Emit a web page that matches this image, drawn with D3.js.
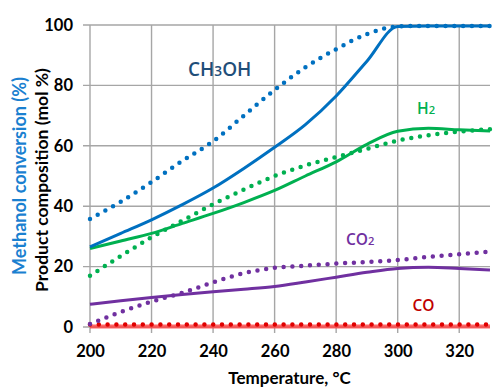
<!DOCTYPE html>
<html><head><meta charset="utf-8">
<script src="https://cdn.jsdelivr.net/npm/d3@7"></script>
<style>body{margin:0;background:#fff}svg{display:block}</style>
</head><body>
<svg id="c" width="501" height="390"></svg>
<script>
const temps = [200,210,220,230,240,250,260,270,280,290,300,310,320,330];
const ch3ohSolid = [26.5,31,35.5,40.5,46,52.5,59.5,67,76.5,88,99.5,99.7,99.7,99.7];
const ch3ohDotted = [35.8,41.5,48,55,61.5,70,78.5,86,92,97,99.5,99.7,99.7,99.7];
const h2Solid = [26,28.5,31,34.3,37.6,41.2,45.2,50,54.7,60.5,64.8,65.8,65.3,64.9];
const h2Dotted = [17,23.5,29.7,35.2,40.6,45.5,50,53.5,56.3,59,61.7,63.5,64.7,65.5];
const co2Solid = [7.5,8.7,9.8,10.8,11.7,12.5,13.4,14.9,16.5,18.1,19.4,19.8,19.4,18.9];
const co2Dotted = [1,5,8.4,11.3,14.8,17.8,19.6,20.3,21,21.5,22.2,23.2,24.1,25];
const coSolid = [0.2,0.2,0.2,0.2,0.2,0.2,0.2,0.2,0.2,0.2,0.2,0.2,0.2,0.2];
const coDotted = [0.8,0.8,0.8,0.8,0.8,0.8,0.8,0.8,0.8,0.8,0.8,0.8,0.8,0.8];
const xTicks = [200,220,240,260,280,300,320];
const yTicks = [0,20,40,60,80,100];

const svg = d3.select('#c');
const x = d3.scaleLinear().domain([200,330]).range([90,490]);
const y = d3.scaleLinear().domain([0,100]).range([327,25]);
const font = 'Lato, "Open Sans", sans-serif';
const lfont = '"Open Sans", sans-serif';
const gridC = '#a6a6a6';

// grid
const g = svg.append('g');
g.selectAll('.hg').data(yTicks).join('line')
  .attr('x1', 83).attr('x2', 490).attr('y1', d=>y(d)).attr('y2', d=>y(d))
  .attr('stroke', gridC).attr('stroke-width', 1.4);
g.selectAll('.vg').data(xTicks).join('line')
  .attr('x1', d=>x(d)).attr('x2', d=>x(d)).attr('y1', 25).attr('y2', 333)
  .attr('stroke', gridC).attr('stroke-width', 1.4);

// axis labels via d3 axes (no domain lines)
const xa = svg.append('g').attr('transform','translate(0,327)')
  .call(d3.axisBottom(x).tickValues(xTicks).tickSize(0).tickPadding(18).tickFormat(d3.format('d')));
const ya = svg.append('g').attr('transform','translate(90,0)')
  .call(d3.axisLeft(y).tickValues(yTicks).tickSize(0).tickPadding(17).tickFormat(d3.format('d')));
[xa, ya].forEach(a => {
  a.select('.domain').remove();
  a.selectAll('text').attr('font-family', font).attr('font-weight','bold')
    .attr('font-size', 16.5).attr('fill', '#000');
});
xa.selectAll('text').attr('dy', '0.71em');

const line = d3.line().x((d,i)=>x(temps[i])).y(d=>y(d)).curve(d3.curveMonotoneX);

function drawSolid(data, color, w, op) {
  svg.append('path').datum(data).attr('d', line)
    .attr('fill','none').attr('stroke', color).attr('stroke-width', w)
    .attr('stroke-opacity', op||1).attr('stroke-linejoin','round');
}
function drawDotted(data, color) {
  svg.append('path').datum(data).attr('d', line)
    .attr('fill','none').attr('stroke', color).attr('stroke-width', 4.5)
    .attr('stroke-linecap','round').attr('stroke-dasharray','0 8.8');
}
drawSolid(coSolid, '#ff4040', 4, 0.8);
drawDotted(coDotted, '#e00000');
drawSolid(co2Solid, '#7030a0', 3);
drawDotted(co2Dotted, '#7030a0');
drawSolid(h2Solid, '#00b050', 3);
drawDotted(h2Dotted, '#00b050');
drawSolid(ch3ohSolid, '#0070c0', 3);
drawDotted(ch3ohDotted, '#0070c0');

// series labels
function lab(xp, yp, parts, color, size) {
  const t = svg.append('text').attr('x', xp).attr('y', yp)
    .attr('font-family', lfont).attr('font-weight', 600).attr('font-size', size).attr('fill', color);
  parts.forEach(p => {
    const s = t.append('tspan').text(p[0]);
    if (p[1]) s.attr('font-size', size*0.72);
  });
}
lab(188, 76, [['CH'],['3',1],['OH']], '#1f4e79', 19);
lab(417, 113.5, [['H'],['2',1]], '#00b050', 15.5);
lab(346, 245, [['CO'],['2',1]], '#7030a0', 15.5);
lab(412.5, 311, [['CO']], '#c00000', 15.5);

// axis titles
svg.append('text').attr('x', 289.5).attr('y', 384)
  .attr('text-anchor','middle').attr('font-family', font).attr('font-weight','bold')
  .attr('font-size', 17).attr('fill','#000').text('Temperature, °C');
svg.append('text').attr('transform','translate(47.5,180) rotate(-90)')
  .attr('text-anchor','middle').attr('font-family', font).attr('font-weight','bold')
  .attr('font-size', 17.5).attr('fill','#000').text('Product composition (mol %)');
svg.append('text').attr('transform','translate(26,176) rotate(-90)')
  .attr('text-anchor','middle').attr('font-family', font).attr('font-weight','bold')
  .attr('font-size', 18).attr('fill','#1a80d0').text('Methanol conversion (%)');
</script>
</body></html>
